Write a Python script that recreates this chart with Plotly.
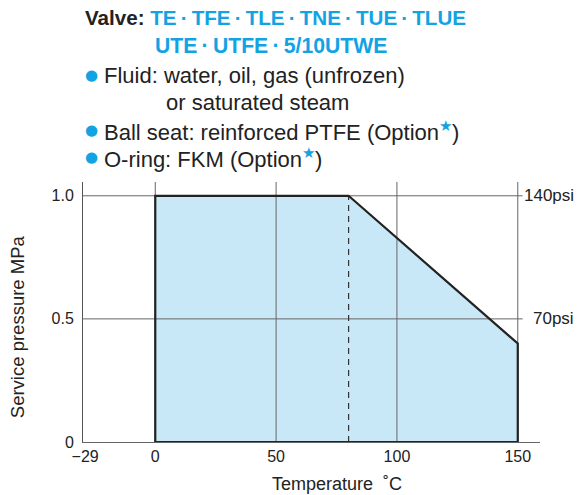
import plotly.graph_objects as go

# ---- data ----
temp_c = [0, 0, 80, 150, 150, 0]
pressure_mpa = [0, 1.0, 1.0, 0.4, 0, 0]
knee_temp = [80, 80]
knee_pressure = [0, 1.0]
x_tick_vals = [-29, 0, 50, 100, 150]
x_tick_text = ["\u221229", "0", "50", "100", "150"]
x_grid_vals = [0, 50, 100, 150]
y_tick_vals = [0, 0.5, 1.0]
y_tick_text = ["0", "0.5", "1.0"]
y_grid_vals = [0.5, 1.0]
psi_labels = ["70psi", "140psi"]
psi_vals = [0.5, 1.0]

BLUE = "#12a3e3"
FONT = "Liberation Sans, Arial, sans-serif"
XMIN, XMAX = -29.9, 159.2
YMAX = 1.056
GRID_XEND = 152

PLOT_L, PLOT_W = 83, 457      # page px
PLOT_B, PLOT_H = 441.7, 259.7

fig = go.Figure()

fig.add_trace(go.Scatter(x=temp_c, y=pressure_mpa, mode="lines", fill="toself",
                         fillcolor="#c8e8f8", line=dict(width=0), hoverinfo="skip"))
for gx in x_grid_vals:
    fig.add_trace(go.Scatter(x=[gx, gx], y=[0, YMAX], mode="lines",
                             line=dict(color="#666666", width=1), hoverinfo="skip"))
for gy in y_grid_vals:
    fig.add_trace(go.Scatter(x=[XMIN, GRID_XEND], y=[gy, gy], mode="lines",
                             line=dict(color="#666666", width=1), hoverinfo="skip"))
fig.add_trace(go.Scatter(x=knee_temp, y=knee_pressure, mode="lines",
                         line=dict(color="#333333", width=1.2, dash="6px,5px"), hoverinfo="skip"))
fig.add_trace(go.Scatter(x=temp_c, y=pressure_mpa, mode="lines",
                         line=dict(color="#222222", width=2.2), hoverinfo="skip"))

fig.update_layout(
    width=578, height=495,
    margin=dict(l=83, r=38, t=182, b=53),
    paper_bgcolor="white", plot_bgcolor="white",
    showlegend=False,
    font=dict(family=FONT, size=16, color="#222222"),
    xaxis=dict(range=[XMIN, XMAX], tickvals=x_tick_vals, ticktext=x_tick_text,
               showgrid=False, zeroline=False, showline=True, linecolor="#666666",
               linewidth=1, ticks="", tickfont=dict(size=16, color="#222222")),
    yaxis=dict(range=[0, YMAX], tickvals=y_tick_vals, ticktext=y_tick_text,
               showgrid=False, zeroline=False, showline=True, linecolor="#555555",
               linewidth=1, ticks="", ticklabelstandoff=5,
               tickfont=dict(size=16, color="#222222")),
)


def px_x(px):
    return (px - PLOT_L) / PLOT_W


def px_y(py):
    return (PLOT_B - py) / PLOT_H


for lab, v in zip(psi_labels, psi_vals):
    fig.add_annotation(x=px_x(576), xref="paper", y=v, yref="y", text=lab,
                       showarrow=False, xanchor="right", yanchor="middle",
                       font=dict(size=17, color="#222222"))

fig.add_annotation(x=px_x(337), xref="paper", y=px_y(484), yref="paper",
                   text="Temperature  \u02daC", showarrow=False,
                   xanchor="center", yanchor="middle", font=dict(size=18, color="#222222"))
fig.add_annotation(x=px_x(17), xref="paper", y=px_y(327), yref="paper",
                   text="Service pressure MPa", showarrow=False, textangle=-90,
                   xanchor="center", yanchor="middle", font=dict(size=18.5, color="#222222"))


def hdr(px, py, text, size=22):
    fig.add_annotation(x=px_x(px), xref="paper", y=px_y(py), yref="paper",
                       text=text, showarrow=False, xanchor="left", yanchor="middle",
                       font=dict(size=size, color="#222222", family=FONT))


dot = "\u2009\u00b7\u2009"
hdr(83, 18, "<b>Valve:</b> <b><span style='color:%s'>%s</span></b>"
    % (BLUE, dot.join(["TE", "TFE", "TLE", "TNE", "TUE", "TLUE"])), 20.6)
hdr(153, 46, "<b><span style='color:%s'>%s</span></b>"
    % (BLUE, dot.join(["UTE", "UTFE", "5/10UTWE"])), 21.2)
star = "<sup><span style='color:%s'>\u2605</span></sup>" % BLUE
bullet_rows = [(76, "Fluid: water, oil, gas (unfrozen)"),
               (131, "Ball seat: reinforced PTFE (Option" + star + ")"),
               (158, "O-ring: FKM (Option" + star + ")")]
for py, txt in bullet_rows:
    fig.add_annotation(x=px_x(83), xref="paper", y=px_y(py - 1), yref="paper",
                       text="\u25cf", showarrow=False, xanchor="left", yanchor="middle",
                       font=dict(size=15, color=BLUE, family="DejaVu Sans"))
    hdr(102, py, txt)
hdr(164, 103, "or saturated steam")

fig.write_html("out.html", config={"displayModeBar": False},
               post_script="document.body.style.margin='0';document.body.style.padding='0';")
